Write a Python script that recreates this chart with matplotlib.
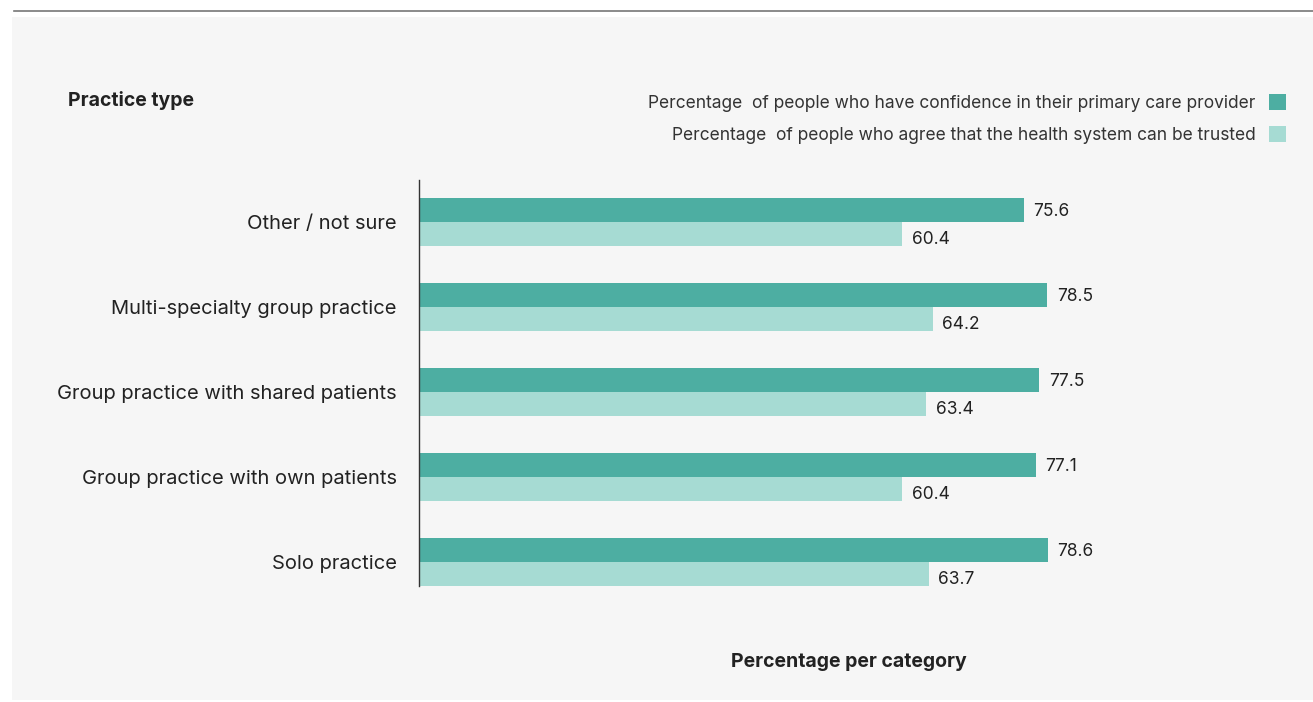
import matplotlib.pyplot as plt
import numpy as np
from matplotlib.patches import Rectangle, Patch
from matplotlib.lines import Line2D

# data, top to bottom
categories = ["Other / not sure", "Multi-specialty group practice",
              "Group practice with shared patients", "Group practice with own patients",
              "Solo practice"]
confidence = [75.6, 78.5, 77.5, 77.1, 78.6]
trusted = [60.4, 64.2, 63.4, 60.4, 63.7]
legend_labels = ["Percentage  of people who have confidence in their primary care provider",
                 "Percentage  of people who agree that the health system can be trusted"]

dark = "#4DAEA2"
light = "#A6DBD3"
txt = "#222222"

plt.rcParams['font.family'] = ['Inter', 'DejaVu Sans']

W, H = 1313, 702
fig = plt.figure(figsize=(W / 100, H / 100), dpi=100)
fig.patch.set_facecolor("white")

# grey panel and top rule
fig.patches.append(Rectangle((12 / W, 1 - 700 / H), (W - 12) / W, (700 - 17) / H,
                             transform=fig.transFigure, facecolor="#F6F6F6",
                             edgecolor="none", zorder=-5))
fig.lines.append(Line2D([14 / W, 1], [1 - 11 / H, 1 - 11 / H], transform=fig.transFigure,
                        color="#777777", lw=1.2, zorder=-5))

ax = fig.add_axes([419 / W, 1 - 586 / H, 800 / W, (586 - 180) / H])
ax.set_facecolor("none")

y = np.arange(len(categories))
h = 0.28
b1 = ax.barh(y - h / 2, confidence, height=h, color=dark, zorder=2)
b2 = ax.barh(y + h / 2, trusted, height=h, color=light, zorder=2)

for rect, v in zip(b1, confidence):
    ax.annotate(f"{v:.1f}", (rect.get_width(), rect.get_y() + rect.get_height() / 2),
                xytext=(7, -1), textcoords="offset points", va="center", ha="left",
                fontsize=12.5, color=txt)
for rect, v in zip(b2, trusted):
    ax.annotate(f"{v:.1f}", (rect.get_width(), rect.get_y() + rect.get_height() / 2),
                xytext=(7, -4), textcoords="offset points", va="center", ha="left",
                fontsize=12.5, color=txt)

ax.set_xlim(0, 100)
ax.set_ylim(len(categories) - 1 + h, -0.494)
ax.set_yticks(y)
ax.set_yticklabels(categories, fontsize=14.5, color=txt)
ax.tick_params(axis="y", length=0, pad=16)
ax.set_xticks([])
for s in ["top", "right", "bottom"]:
    ax.spines[s].set_visible(False)
ax.spines["left"].set_color("#333333")
ax.spines["left"].set_linewidth(1)

fig.text(68 / W, 1 - 100 / H, "Practice type", fontsize=14, fontweight="bold",
         color=txt, va="center", ha="left")
fig.text(849 / W, 1 - 662 / H, "Percentage per category", fontsize=14, fontweight="bold",
         color=txt, va="center", ha="center")

handles = [Patch(facecolor=dark), Patch(facecolor=light)]
leg = fig.legend(handles, legend_labels, loc="upper right",
                 bbox_to_anchor=(1286 / W, 1 - 94 / H), frameon=False,
                 markerfirst=False, fontsize=12.5, handlelength=1.0, handleheight=1.0,
                 handletextpad=0.75, labelspacing=0.85, borderpad=0, borderaxespad=0)
for t in leg.get_texts():
    t.set_color("#333333")

fig.savefig("out.png", dpi=100, facecolor=fig.get_facecolor())
